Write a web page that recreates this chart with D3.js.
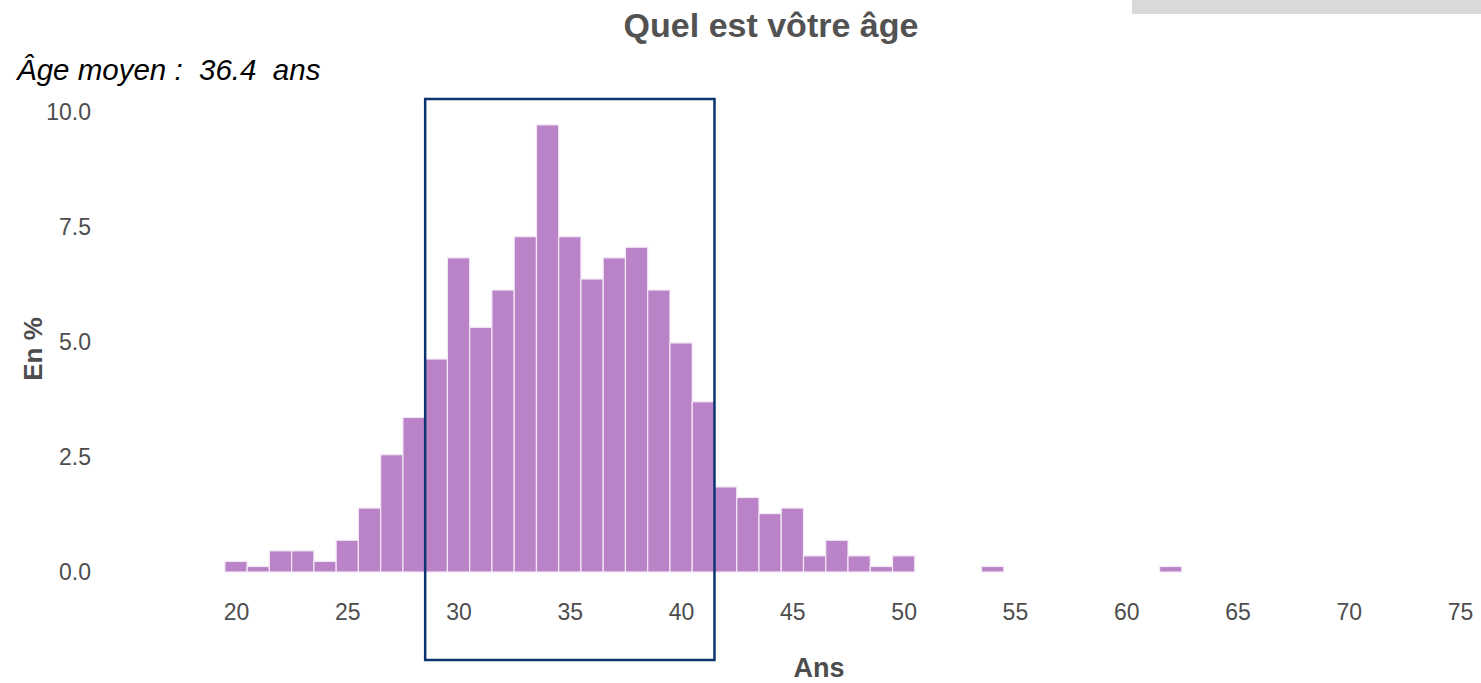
<!DOCTYPE html>
<html>
<head>
<meta charset="utf-8">
<script src="https://cdn.jsdelivr.net/npm/d3@7"></script>
<style>
  body { margin: 0; background: #fff; }
  svg text { font-family: "Liberation Sans", Arial, sans-serif; }
</style>
</head>
<body>
<div id="plot"></div>
<script>
// data (percent of respondents by age)
var ages = [20, 21, 22, 23, 24, 25, 26, 27, 28, 29, 30, 31, 32, 33, 34, 35, 36, 37, 38, 39, 40,
            41, 42, 43, 44, 45, 46, 47, 48, 49, 50, 54, 62];
var pct = [0.23, 0.12, 0.46, 0.46, 0.23, 0.69, 1.39, 2.55, 3.36, 4.63, 6.83, 5.32, 6.13, 7.29, 9.72,
           7.29, 6.37, 6.83, 7.06, 6.13, 4.98, 3.70, 1.85, 1.62, 1.27, 1.39, 0.35, 0.69, 0.35, 0.12, 0.35, 0.12, 0.12];
var xTicks = [20, 25, 30, 35, 40, 45, 50, 55, 60, 65, 70, 75];
var yTicks = [0, 2.5, 5, 7.5, 10];
var highlight = [28.5, 41.5];
var meanAge = "36.4";

/* Step 1: workspace */
var svgWidth = 1481;
var svgHeight = 683;

var svg = d3.select("#plot")
    .append("svg")
    .attr("width", svgWidth)
    .attr("height", svgHeight);

// scales
var xScale = d3.scaleLinear()
    .domain([20, 75])
    .range([236, 1460]);

var yScale = d3.scaleLinear()
    .domain([0, 10])
    .range([572, 112]);

// grey strip in the top right corner
svg.append("rect")
    .attr("x", 1132).attr("y", 0)
    .attr("width", 349).attr("height", 14)
    .attr("fill", "#d9d9d9");

/* Step 2: bars */
svg.selectAll("rect.bar")
    .data(ages)
    .enter()
    .append("rect")
    .attr("class", "bar")
    .attr("x", d => xScale(d - 0.5))
    .attr("width", d => xScale(d + 0.5) - xScale(d - 0.5))
    .attr("y", (d, i) => yScale(pct[i]))
    .attr("height", (d, i) => yScale(0) - yScale(pct[i]))
    .attr("fill", "#ba83c8")
    .attr("stroke", "#f3e8f6")
    .attr("stroke-width", 1.2);

/* Step 3: axes (labels only) */
var xAxis = d3.axisBottom(xScale).tickValues(xTicks).tickSize(0).tickPadding(0).tickFormat(d3.format("d"));
var gx = svg.append("g")
    .attr("transform", "translate(0, 604)")
    .call(xAxis);
gx.select(".domain").remove();
gx.selectAll("text")
    .attr("dy", "0.71em")
    .attr("font-size", 23)
    .attr("font-family", "Liberation Sans, Arial, sans-serif")
    .attr("fill", "#4d4d4d");

var yAxis = d3.axisLeft(yScale).tickValues(yTicks).tickSize(0).tickPadding(0).tickFormat(d3.format(".1f"));
var gy = svg.append("g")
    .attr("transform", "translate(91, 0)")
    .call(yAxis);
gy.select(".domain").remove();
gy.selectAll("text")
    .attr("font-size", 23)
    .attr("font-family", "Liberation Sans, Arial, sans-serif")
    .attr("fill", "#4d4d4d");

/* Step 4: highlight box */
svg.append("rect")
    .attr("x", xScale(highlight[0]))
    .attr("y", 99)
    .attr("width", xScale(highlight[1]) - xScale(highlight[0]))
    .attr("height", 561)
    .attr("fill", "none")
    .attr("stroke", "#0b3470")
    .attr("stroke-width", 2.5);

/* Step 5: titles */
svg.append("text")
    .attr("x", 771).attr("y", 37)
    .attr("text-anchor", "middle")
    .attr("font-size", 34)
    .attr("font-weight", "bold")
    .attr("fill", "#525252")
    .text("Quel est vôtre âge");

svg.append("text")
    .attr("x", 17).attr("y", 80)
    .attr("font-size", 29.5)
    .attr("font-style", "italic")
    .attr("fill", "#000")
    .style("white-space", "pre")
    .text("Âge moyen :  " + meanAge + "  ans");

svg.append("text")
    .attr("transform", "translate(42, 349) rotate(-90)")
    .attr("text-anchor", "middle")
    .attr("font-size", 26)
    .attr("font-weight", "bold")
    .attr("fill", "#4d4d4d")
    .text("En %");

svg.append("text")
    .attr("x", 819).attr("y", 677)
    .attr("text-anchor", "middle")
    .attr("font-size", 27)
    .attr("font-weight", "bold")
    .attr("fill", "#4d4d4d")
    .text("Ans");
</script>
</body>
</html>
